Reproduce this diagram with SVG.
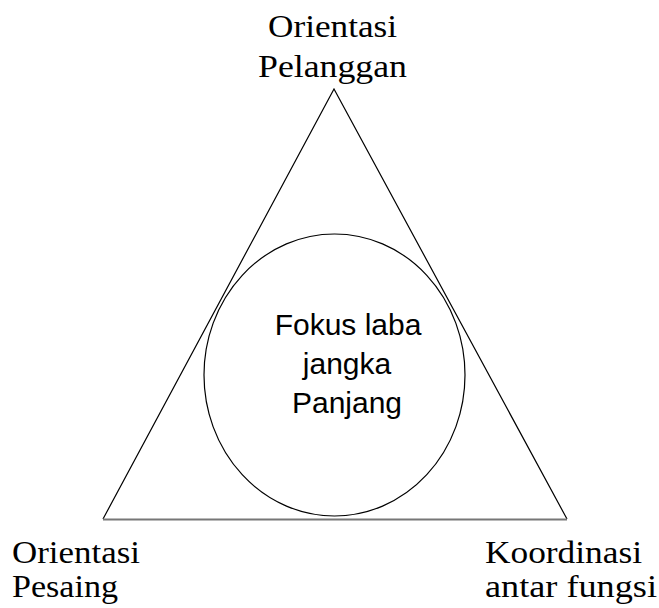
<svg xmlns="http://www.w3.org/2000/svg" width="659" height="608" viewBox="0 0 659 608">
<style>
.lbl{font-family:"Liberation Serif","DejaVu Serif",serif;font-size:32px;fill:#000}
.ctr{font-family:"Liberation Sans",Arial,sans-serif;font-size:30px;fill:#000;text-anchor:middle}
.edge{fill:none;stroke:#000;stroke-width:1.2}
</style>
<rect width="659" height="608" fill="#fff"/>
<g id="connectors">
<polyline class="edge" points="103,519 334,89 567,519"/>
<line x1="103" y1="519.5" x2="567" y2="519.5" stroke="#777" stroke-width="2"/>
</g>
<g id="focus">
<ellipse cx="334.5" cy="375" rx="130.5" ry="141" fill="none" stroke="#000" stroke-width="1.2"/>
<text class="ctr" x="348" y="335">Fokus laba</text>
<text class="ctr" x="347" y="374">jangka</text>
<text class="ctr" x="347" y="413">Panjang</text>
</g>
<g id="customer">
<text class="lbl" x="268" y="37" textLength="129" lengthAdjust="spacingAndGlyphs">Orientasi</text>
<text class="lbl" x="258" y="77" textLength="149" lengthAdjust="spacingAndGlyphs">Pelanggan</text>
</g>
<g id="competitor">
<text class="lbl" x="12" y="563" textLength="128" lengthAdjust="spacingAndGlyphs">Orientasi</text>
<text class="lbl" x="12" y="597" textLength="106" lengthAdjust="spacingAndGlyphs">Pesaing</text>
</g>
<g id="coordination">
<text class="lbl" x="485" y="563" textLength="157" lengthAdjust="spacingAndGlyphs">Koordinasi</text>
<text class="lbl" x="485" y="597" textLength="172" lengthAdjust="spacingAndGlyphs">antar fungsi</text>
</g>
</svg>
